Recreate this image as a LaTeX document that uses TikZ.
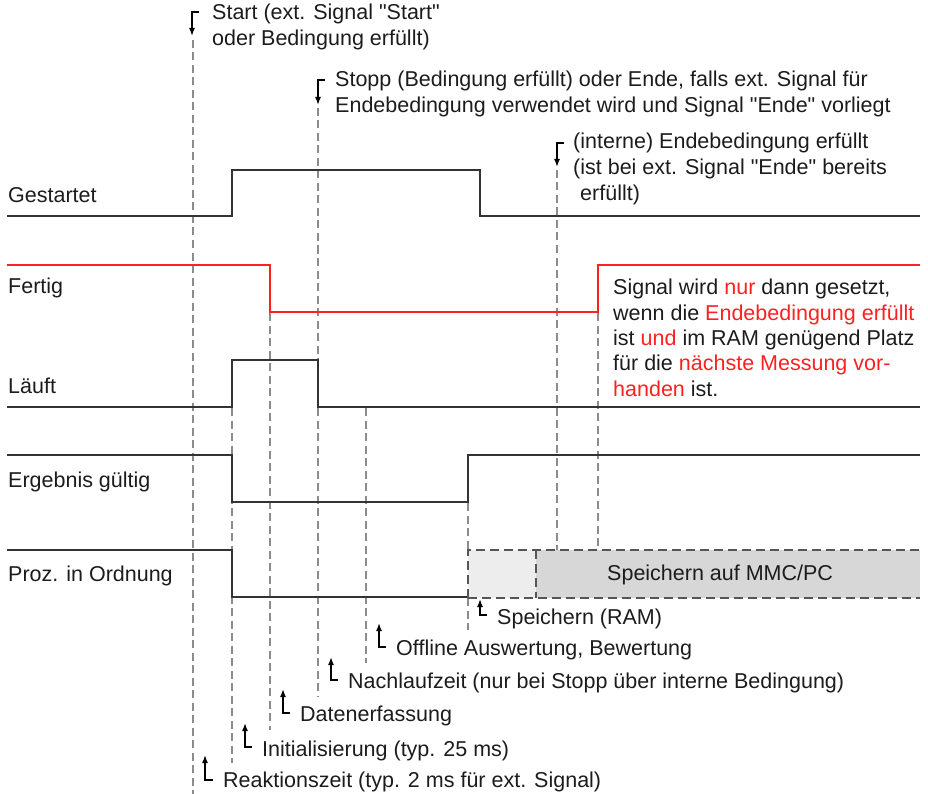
\documentclass[tikz,border=0pt]{standalone}
\usepackage{fontspec}
\setmainfont{Liberation Sans}[Ligatures=TeXOff]
\usetikzlibrary{arrows.meta}
\definecolor{sig}{HTML}{333333}
\definecolor{sred}{HTML}{FF2020}
\definecolor{guide}{HTML}{8C8C8C}
\definecolor{txt}{HTML}{1C1C1C}
\definecolor{boxlight}{HTML}{EDEDED}
\definecolor{boxdark}{HTML}{D7D7D7}
\definecolor{boxedge}{HTML}{555555}
\begin{document}
\begin{tikzpicture}[x=1pt,y=-1pt,
  signal/.style={draw=sig,line width=1.9pt},
  redsignal/.style={draw=sred,line width=1.9pt},
  guideline/.style={draw=guide,line width=1.4pt,dash pattern=on 8pt off 4.5pt},
  boxline/.style={draw=boxedge,line width=1.9pt,dash pattern=on 9pt off 5pt},
  downmark/.style={draw=black,line width=1.5pt,-{Latex[length=8pt,width=6pt]}},
  upmark/.style={draw=black,line width=1.5pt,-{Latex[length=8pt,width=6pt]}},
  lbl/.style={anchor=base west,inner sep=0pt,text=txt,font=\fontsize{21.5}{26}\selectfont},
]
\useasboundingbox (0,0) rectangle (928,794);

% storage box fills
\fill[boxlight] (468,550) rectangle (536,598);
\fill[boxdark] (536,550) rectangle (920,598);

% guide lines
\draw[guideline] (193,40) -- (193,794);
\draw[guideline] (232,408) -- (232,763);
\draw[guideline] (270,313) -- (270,730);
\draw[guideline] (318,108) -- (318,697);
\draw[guideline] (366,408) -- (366,663);
\draw[guideline] (468,503) -- (468,550);
\draw[guideline] (468,598) -- (468,630);
\draw[guideline] (557,170) -- (557,550);
\draw[guideline] (598,313) -- (598,550);

% signals
\draw[signal] (7,216) -- (232,216) -- (232,170) -- (480,170) -- (480,216) -- (920,216);
\draw[redsignal] (7,265) -- (270,265) -- (270,312) -- (598,312) -- (598,265) -- (920,265);
\draw[signal] (7,407) -- (232,407) -- (232,360) -- (318,360) -- (318,407) -- (920,407);
\draw[signal] (7,455) -- (232,455) -- (232,502) -- (468,502) -- (468,455) -- (920,455);
\draw[signal] (7,550) -- (232,550) -- (232,597) -- (468,597);

% storage box dashed edges
\draw[boxline] (468,598) -- (468,550) -- (920,550);
\draw[boxline] (468,598) -- (920,598);
\draw[boxline] (536,550) -- (536,598);
\node[lbl] (mmc) at (607,580) {Speichern auf MMC/PC};

% signal names
\node[lbl] (gest) at (8,203) {Gestartet};
\node[lbl] (fert) at (8,293) {Fertig};
\node[lbl] (laeuft) at (8,393) {Läuft};
\node[lbl] (ergeb) at (8,487) {Ergebnis gültig};
\node[lbl] (proz) at (8,581) {Proz. in Ordnung};

% top markers
\draw[downmark] (199,12) -- (192,12) -- (192,36);
\node[lbl] (start1) at (212,20) {Start (ext. Signal "Start"};
\node[lbl] (start2) at (212,46) {oder Bedingung erfüllt)};

\draw[downmark] (325,80) -- (318,80) -- (318,105);
\node[lbl] (stopp1) at (335,87) {Stopp (Bedingung erfüllt) oder Ende, falls ext. Signal für};
\node[lbl] (stopp2) at (335,113) {Endebedingung verwendet wird und Signal "Ende" vorliegt};

\draw[downmark] (564,143) -- (557,143) -- (557,167);
\node[lbl] (ende1) at (573,149) {(interne) Endebedingung erfüllt};
\node[lbl] (ende2) at (573,175) {(ist bei ext. Signal "Ende" bereits};
\node[lbl] (ende3) at (580,201) {erfüllt)};

% note on Fertig
\node[lbl] (n1) at (613,294) {Signal wird \textcolor{sred}{nur} dann gesetzt,};
\node[lbl] (n2) at (613,320) {wenn die \textcolor{sred}{Endebedingung erfüllt}};
\node[lbl] (n3) at (613,345) {ist \textcolor{sred}{und} im RAM genügend Platz};
\node[lbl] (n4) at (613,370) {für die \textcolor{sred}{nächste Messung vor-}};
\node[lbl] (n5) at (613,396) {\textcolor{sred}{handen} ist.};

% bottom markers
\draw[upmark] (487,615) -- (480,615) -- (480,599);
\node[lbl] (ram) at (497,624) {Speichern (RAM)};
\draw[upmark] (386,647) -- (379,647) -- (379,623);
\node[lbl] (offl) at (396,655) {Offline Auswertung, Bewertung};
\draw[upmark] (338,680) -- (331,680) -- (331,657);
\node[lbl] (nach) at (348,688) {Nachlaufzeit (nur bei Stopp über interne Bedingung)};
\draw[upmark] (290,713) -- (283,713) -- (283,689);
\node[lbl] (daten) at (300,721) {Datenerfassung};
\draw[upmark] (252,747) -- (245,747) -- (245,723);
\node[lbl] (init) at (262,756) {Initialisierung (typ. 25 ms)};
\draw[upmark] (213,780) -- (205,780) -- (205,755);
\node[lbl] (reakt) at (223,787) {Reaktionszeit (typ. 2 ms für ext. Signal)};
\end{tikzpicture}
\end{document}
